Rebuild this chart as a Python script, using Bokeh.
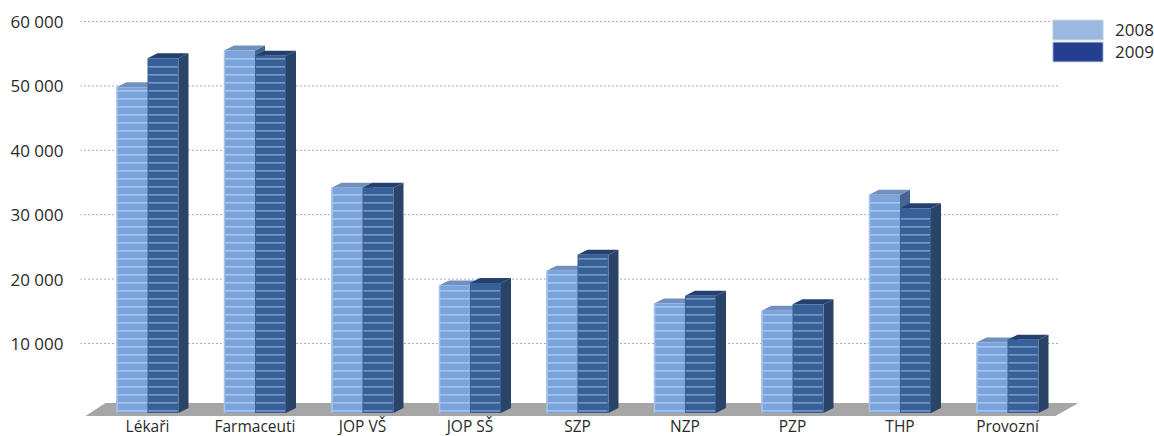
from bokeh.plotting import figure
from bokeh.models import Range1d, FixedTicker, LinearAxis, Legend, LegendItem
from bokeh.embed import file_html
from bokeh.resources import INLINE

categories = ["Lékaři", "Farmaceuti", "JOP VŠ", "JOP SŠ", "SZP", "NZP", "PZP", "THP", "Provozní"]
series_2008 = [49800, 55500, 34200, 19000, 21300, 16200, 15100, 33100, 10150]
series_2009 = [54300, 54700, 34200, 19400, 23800, 17400, 16100, 31000, 10600]
y_ticks = [10000, 20000, 30000, 40000, 50000, 60000]
y_labels = ["10 000", "20 000", "30 000", "40 000", "50 000", "60 000"]

FONT = "Open Sans"
PX_X = 1 / 107.5
PX_Y = 10000 / 64.4
BAR_W = 31 * PX_X
DX = 10 * PX_X
DY = 5 * PX_Y
BASE = -5 * PX_Y
STRIPE = 8 * PX_Y

p = figure(width=1154, height=436, output_backend="svg", toolbar_location=None,
           x_axis_type=None, y_axis_type=None,
           x_range=Range1d((80 - 147) * PX_X, (1154 - 147) * PX_X),
           y_range=Range1d(10000 - 93 * PX_Y, 10000 + 331 * PX_Y),
           min_border_left=80, min_border_right=0, min_border_top=12, min_border_bottom=0)
p.outline_line_color = None
p.grid.visible = False
p.background_fill_color = "white"

xaxis = LinearAxis(ticker=FixedTicker(ticks=list(range(len(categories)))),
                   major_label_overrides={i: c for i, c in enumerate(categories)},
                   fixed_location=10000 - 68 * PX_Y)
yaxis = LinearAxis(ticker=FixedTicker(ticks=y_ticks),
                   major_label_overrides=dict(zip(y_ticks, y_labels)))
for ax, standoff, size in ((xaxis, 3, "15.5px"), (yaxis, 17, "17px")):
    ax.axis_line_color = None
    ax.major_tick_line_color = None
    ax.minor_tick_line_color = None
    ax.major_tick_in = 0
    ax.major_tick_out = 0
    ax.major_label_standoff = standoff
    ax.major_label_text_font = FONT
    ax.major_label_text_font_size = size
    ax.major_label_text_color = "#2a2a2a"
p.add_layout(xaxis, "below")
p.add_layout(yaxis, "left")

# floor
n = len(categories)
fl = -62 * PX_X
fr_t = (n - 1) + 71 * PX_X
p.patch([fl, fl + 20 * PX_X, fr_t, fr_t - 23 * PX_X], [BASE - 3 * PX_Y, BASE + 10 * PX_Y, BASE + 10 * PX_Y, BASE - 3 * PX_Y],
        fill_color="#a6a6a6", line_color=None)

# gridlines
p.segment(x0=[(80 - 147) * PX_X] * len(y_ticks), x1=[(1058 - 147) * PX_X] * len(y_ticks),
          y0=y_ticks, y1=y_ticks, line_color="#4a50b8", line_width=1, line_dash="1 3")


def bars(offset, values, front, side, cap, stripe, inset_l, inset_r, edge=None):
    xs = [i + offset for i in range(n)]
    side_x, side_y, cap_x, cap_y = [], [], [], []
    for x, v in zip(xs, values):
        l, r = x - BAR_W / 2, x + BAR_W / 2
        side_x.append([r, r + DX, r + DX, r])
        side_y.append([BASE, BASE + DY, v + DY, v])
        cap_x.append([l, l + DX, r + DX, r])
        cap_y.append([v, v + DY, v + DY, v])
    p.patches(side_x, side_y, fill_color=side, line_color=None)
    p.patches(cap_x, cap_y, fill_color=cap, line_color=None)
    p.vbar(x=xs, width=BAR_W, top=values, bottom=BASE, fill_color=front, line_color=None)
    x0, x1, ys = [], [], []
    for x, v in zip(xs, values):
        y = BASE + 2 * PX_Y
        while y < v - 3 * PX_Y:
            x0.append(x - BAR_W / 2 + inset_l)
            x1.append(x + BAR_W / 2 - inset_r)
            ys.append(y)
            y += STRIPE
    p.segment(x0=x0, x1=x1, y0=ys, y1=ys, line_color=stripe, line_width=1.2)
    if edge:
        ex = [x - BAR_W / 2 + 0.5 * PX_X for x in xs]
        p.segment(x0=ex, x1=ex, y0=[BASE] * n, y1=values, line_color=edge, line_width=1.5)


bars(-15.5 * PX_X, series_2008, "#7ba3dc", "#45648f", "#7090bd", "#b7cfee", 0, 0, edge="#a9c4ea")
bars(15.5 * PX_X, series_2009, "#386098", "#2a4468", "#24406e", "#93a9cc", 1 * PX_X, 1 * PX_X)

# legend swatches: renderers sit outside the visible range, only their legend glyph shows
off_x = [-100]
off_y0 = [0]
off_y1 = [1]
r1 = p.quad(left=off_x, right=off_x, bottom=off_y0, top=off_y1, fill_color="#9db8df", line_color="#cfdcf0")
r2 = p.quad(left=off_x, right=off_x, bottom=off_y0, top=off_y1, fill_color="#243f8f", line_color="#cfdcf0")
for label, rend, loc_y in (("2008", r1, 394), ("2009", r2, 372)):
    leg = Legend(items=[LegendItem(label=label, renderers=[rend])],
                 location=(966, loc_y), orientation="vertical", glyph_width=63, glyph_height=25,
                 label_standoff=6, spacing=0, padding=0, margin=0,
                 border_line_color=None, background_fill_alpha=0,
                 label_text_font=FONT, label_text_font_size="17px", label_text_color="#2a2a2a",
                 label_height=20)
    p.add_layout(leg, "center")

open("out.html", "w").write(file_html(p, INLINE))
